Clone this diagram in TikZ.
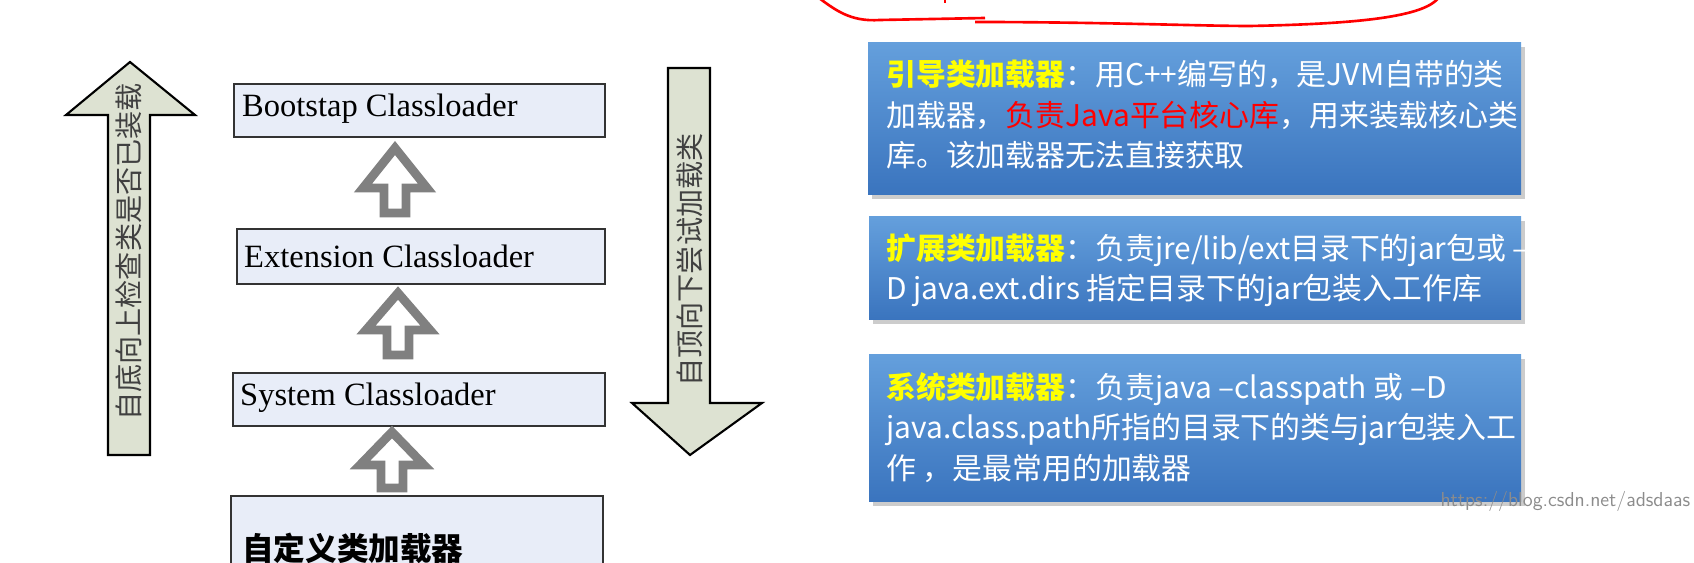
\documentclass[tikz,border=0pt]{standalone}
\usepackage{fontspec}
\setmainfont{Liberation Serif}
\newfontfamily\cjk{Noto Sans CJK SC}
\usetikzlibrary{shadows}
\definecolor{arrowfill}{HTML}{DDE2D2}
\definecolor{boxfill}{HTML}{E8EDF8}
\definecolor{hl}{HTML}{FFFF00}
\definecolor{bluetop}{HTML}{649FDC}
\definecolor{bluebot}{HTML}{3A74BE}
\tikzset{
  loaderbox/.style={draw=black!80,line width=1.2pt,fill=boxfill},
  loadertext/.style={anchor=west,font=\fontsize{18.5}{18}\selectfont},
  bigarrow/.style={draw=black,line width=1.2pt,fill=arrowfill},
  hollow/.style={draw=black!50,line width=5pt,fill=white,line join=miter},
  bluebox/.style={top color=bluetop,bottom color=bluebot,drop shadow={opacity=0.4,shadow xshift=2pt,shadow yshift=-2pt}},
  desc/.style={anchor=north west,align=left,text=white,font=\cjk\fontsize{17}{23}\selectfont,inner sep=0pt},
  vlabel/.style={rotate=90,font=\cjk\fontsize{16}{16}\selectfont,text=black!75}
}
\begin{document}
\begin{tikzpicture}[x=0.02cm,y=-0.02cm]
\useasboundingbox (0,0) rectangle (1694,563);
\clip (0,0) rectangle (1694,563);
% red curve
\draw[red,line width=1.5pt] (815,-5) .. controls (835,10) and (850,22) .. (880,20) -- (985,18);
\draw[red,line width=1.5pt] (975,22) .. controls (1100,22) and (1200,26) .. (1250,26) .. controls (1350,24) and (1430,18) .. (1440,-5);
\draw[red,line width=1.2pt] (945,-2) -- (945,3);
% left up arrow
\draw[bigarrow] (108,455) -- (150,455) -- (150,115) -- (195,115) -- (130,62) -- (66,115) -- (108,115) -- cycle;
\node[vlabel] (up) at (129,252) {自底向上检查类是否已装载};
% right down arrow
\draw[bigarrow] (668,68) -- (710,68) -- (710,403) -- (762,403) -- (690,455) -- (632,403) -- (668,403) -- cycle;
\node[vlabel] (down) at (690,260) {自顶向下尝试加载类};
% loader boxes
\node[loaderbox,minimum width=371*0.02cm,minimum height=53*0.02cm,anchor=north west,inner sep=0pt] (boot) at (233,83) {};
\node[loadertext] at (236,109) {Bootstap Classloader};
\node[loaderbox,minimum width=368*0.02cm,minimum height=55*0.02cm,anchor=north west,inner sep=0pt] (ext) at (236,228) {};
\node[loadertext] at (238,256) {Extension Classloader};
\node[loaderbox,minimum width=372*0.02cm,minimum height=53*0.02cm,anchor=north west,inner sep=0pt] (sys) at (232,372) {};
\node[loadertext] at (234,398) {System Classloader};
\node[loaderbox,minimum width=372*0.02cm,minimum height=80*0.02cm,anchor=north west,inner sep=0pt] (cust) at (230,495) {};
\node[anchor=west,font=\cjk\bfseries\fontsize{18}{18}\selectfont] at (236,548) {自定义类加载器};
% hollow arrows
\foreach \cx/\tip/\base/\bot in {395/148/188/213, 398/293/330/355, 392/432/465/488}{
  \draw[hollow] (\cx-11,\bot) -- (\cx+11,\bot) -- (\cx+11,\base) -- (\cx+32,\base) -- (\cx,\tip) -- (\cx-32,\base) -- (\cx-11,\base) -- cycle;
}
% blue boxes
\fill[bluebox] (868,43) rectangle (1521,195);
\fill[bluebox] (869,217) rectangle (1521,320);
\fill[bluebox] (869,355) rectangle (1521,502);
\node[desc] (d1) at (886,60) {\textcolor{hl}{\bfseries 引导类加载器}：用C++编写的，是JVM自带的类\\加载器，\textcolor{red}{负责Java平台核心库}，用来装载核心类\\库。该加载器无法直接获取};
\node[desc] (d2) at (886,233) {\textcolor{hl}{\bfseries 扩展类加载器}：负责jre/lib/ext目录下的jar包或 –\\D java.ext.dirs 指定目录下的jar包装入工作库};
\node[desc] (d3) at (886,372) {\textcolor{hl}{\bfseries 系统类加载器}：负责java –classpath 或 –D\\java.class.path所指的目录下的类与jar包装入工\\作 ，是最常用的加载器};
\node[anchor=south east,text=black!45,font=\fontsize{11.5}{11}\selectfont\sffamily,inner sep=2pt] (wm) at (1694,515) {https://blog.csdn.net/adsdaas};
\end{tikzpicture}
\end{document}
